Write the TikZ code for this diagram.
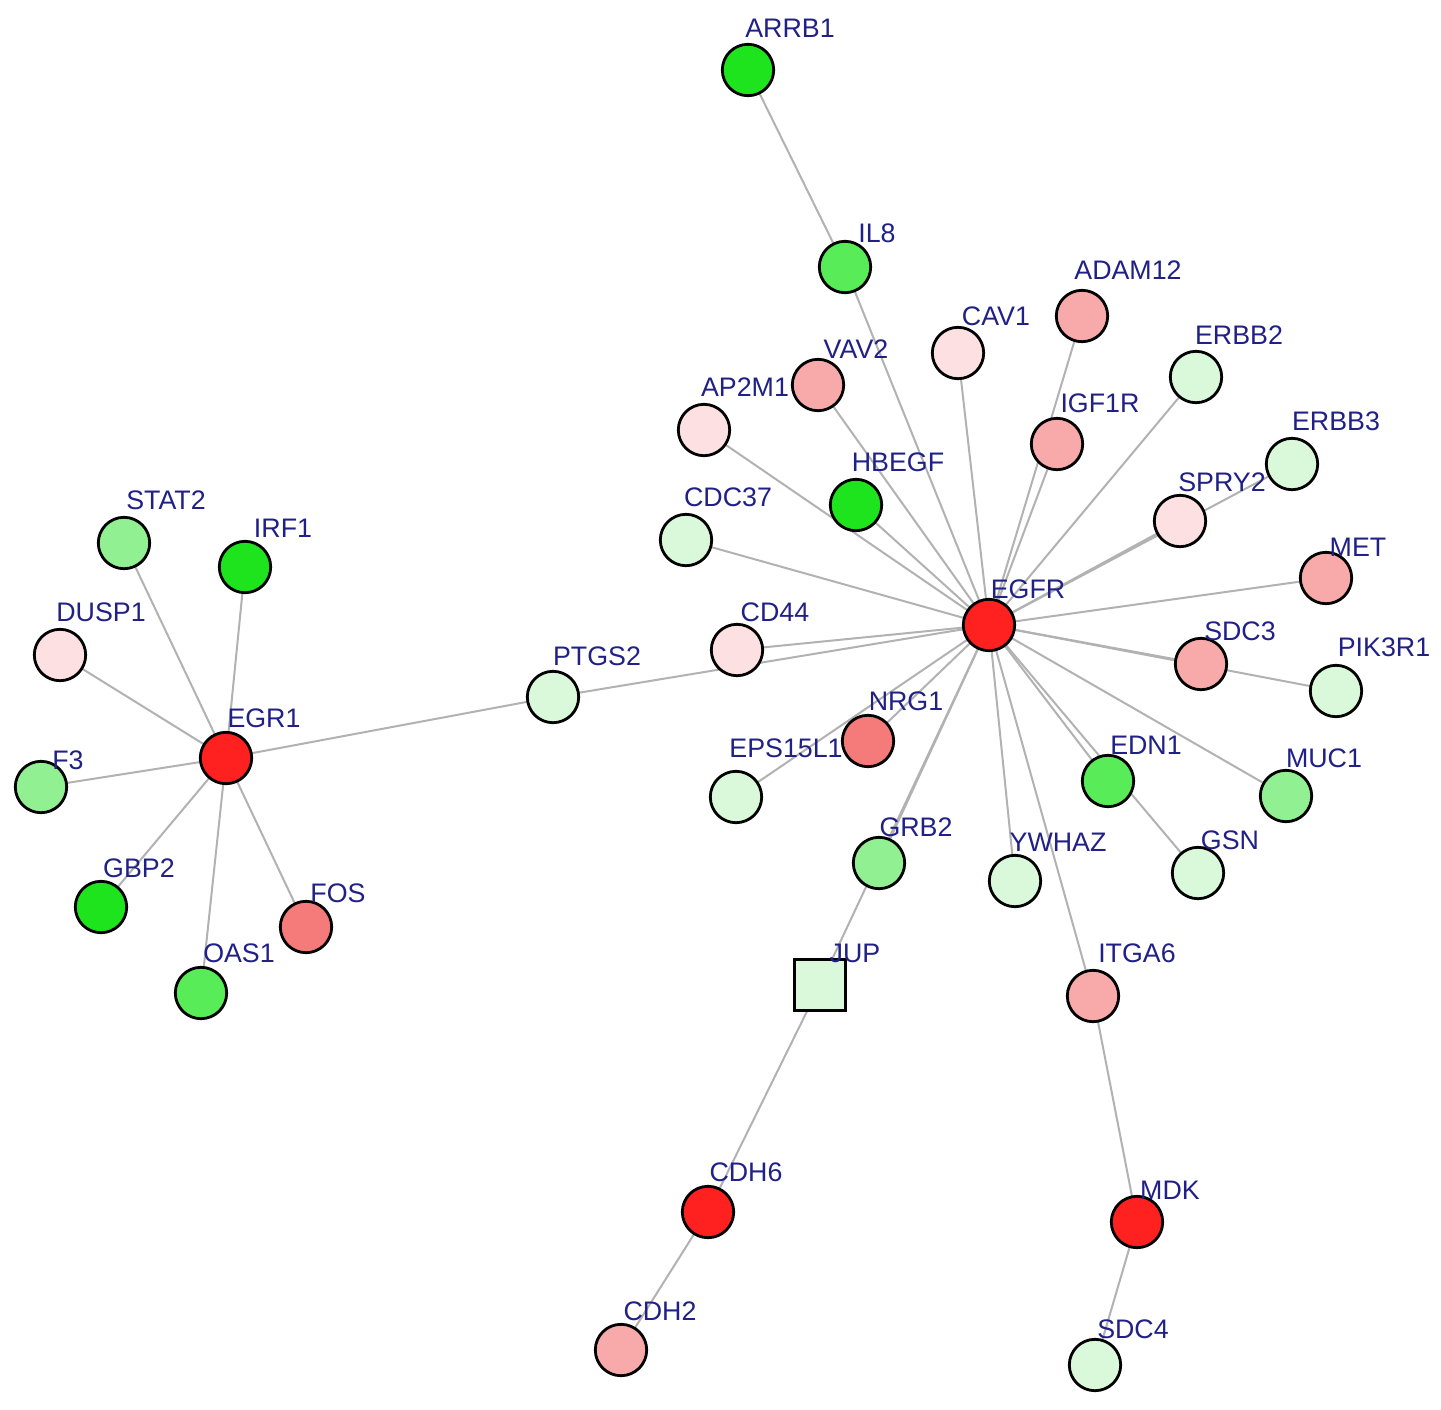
\documentclass[tikz,border=0pt]{standalone}
\usepackage{fontspec}
\setmainfont{Liberation Sans}
\pgfdeclarelayer{bg}
\pgfsetlayers{bg,main}
\definecolor{edgec}{RGB}{178,178,178}
\definecolor{lblc}{RGB}{32,32,135}
\definecolor{cRed}{RGB}{255,32,32}
\definecolor{cSalmon}{RGB}{245,122,122}
\definecolor{cPink}{RGB}{248,170,170}
\definecolor{cBlush}{RGB}{253,224,226}
\definecolor{cGreen}{RGB}{30,228,30}
\definecolor{cMidG}{RGB}{88,236,88}
\definecolor{cLtG}{RGB}{145,240,145}
\definecolor{cPaleG}{RGB}{218,248,218}
\tikzset{
  gene/.style={circle, draw=black, line width=1.4pt, minimum size=25.7pt, inner sep=0pt},
  genesq/.style={rectangle, draw=black, line width=1.4pt, minimum size=25.7pt, inner sep=0pt},
  lbl/.style={text=lblc, font=\fontsize{13.4pt}{13.4pt}\selectfont, inner sep=0pt},
  link/.style={draw=edgec, line width=1pt}
}
\begin{document}
\begin{tikzpicture}[x=0.5pt,y=-0.5pt]
\useasboundingbox (0,0) rectangle (1441,1409);
% nodes
\node[gene, fill=cGreen]  (ARRB1)   at (748,70)   {};
\node[gene, fill=cMidG]   (IL8)     at (845,267)  {};
\node[gene, fill=cPink]   (ADAM12)  at (1082,316) {};
\node[gene, fill=cBlush]  (CAV1)    at (958,353)  {};
\node[gene, fill=cPink]   (VAV2)    at (818,385)  {};
\node[gene, fill=cBlush]  (AP2M1)   at (704,430)  {};
\node[gene, fill=cPaleG]  (ERBB2)   at (1196,377) {};
\node[gene, fill=cPink]   (IGF1R)   at (1057,444) {};
\node[gene, fill=cPaleG]  (ERBB3)   at (1292,464) {};
\node[gene, fill=cGreen]  (HBEGF)   at (856,505)  {};
\node[gene, fill=cBlush]  (SPRY2)   at (1180,521) {};
\node[gene, fill=cPaleG]  (CDC37)   at (686,540)  {};
\node[gene, fill=cLtG]    (STAT2)   at (124,543)  {};
\node[gene, fill=cGreen]  (IRF1)    at (245,567)  {};
\node[gene, fill=cPink]   (MET)     at (1326,578) {};
\node[gene, fill=cRed]    (EGFR)    at (989,625)  {};
\node[gene, fill=cBlush]  (DUSP1)   at (60,655)   {};
\node[gene, fill=cBlush]  (CD44)    at (737,650)  {};
\node[gene, fill=cPaleG]  (PTGS2)   at (553,697)  {};
\node[gene, fill=cPink]   (SDC3)    at (1201,664) {};
\node[gene, fill=cPaleG]  (PIK3R1)  at (1336,691) {};
\node[gene, fill=cSalmon] (NRG1)    at (868,741)  {};
\node[gene, fill=cRed]    (EGR1)    at (226,758)  {};
\node[gene, fill=cLtG]    (F3)      at (41,787)   {};
\node[gene, fill=cPaleG]  (EPS15L1) at (736,797)  {};
\node[gene, fill=cMidG]   (EDN1)    at (1108,781) {};
\node[gene, fill=cLtG]    (MUC1)    at (1286,796) {};
\node[gene, fill=cLtG]    (GRB2)    at (879,863)  {};
\node[gene, fill=cPaleG]  (YWHAZ)   at (1015,881) {};
\node[gene, fill=cPaleG]  (GSN)     at (1198,873) {};
\node[gene, fill=cGreen]  (GBP2)    at (101,907)  {};
\node[gene, fill=cSalmon] (FOS)     at (306,927)  {};
\node[gene, fill=cMidG]   (OAS1)    at (201,993)  {};
\node[genesq, fill=cPaleG] (JUP)    at (820,985)  {};
\node[gene, fill=cPink]   (ITGA6)   at (1093,996) {};
\node[gene, fill=cRed]    (CDH6)    at (708,1212) {};
\node[gene, fill=cRed]    (MDK)     at (1137,1222){};
\node[gene, fill=cPink]   (CDH2)    at (621,1350) {};
\node[gene, fill=cPaleG]  (SDC4)    at (1095,1365){};
% labels
\node[lbl] (ARRB1l)   at (790,28)    {ARRB1};
\node[lbl] (IL8l)     at (877,233)   {IL8};
\node[lbl] (ADAM12l)  at (1128,270)  {ADAM12};
\node[lbl] (CAV1l)    at (996,316)   {CAV1};
\node[lbl] (VAV2l)    at (856,349)   {VAV2};
\node[lbl] (AP2M1l)   at (745,387)   {AP2M1};
\node[lbl] (ERBB2l)   at (1239,335)  {ERBB2};
\node[lbl] (IGF1Rl)   at (1100,403)  {IGF1R};
\node[lbl] (ERBB3l)   at (1336,421)  {ERBB3};
\node[lbl] (HBEGFl)   at (898,462)   {HBEGF};
\node[lbl] (SPRY2l)   at (1222,482)  {SPRY2};
\node[lbl] (CDC37l)   at (728,497)   {CDC37};
\node[lbl] (STAT2l)   at (166,500)   {STAT2};
\node[lbl] (IRF1l)    at (283,528)   {IRF1};
\node[lbl] (METl)     at (1358,547)  {MET};
\node[lbl] (EGFRl)    at (1028,589)  {EGFR};
\node[lbl] (DUSP1l)   at (101,612)   {DUSP1};
\node[lbl] (CD44l)    at (775,612)   {CD44};
\node[lbl] (PTGS2l)   at (597,656)   {PTGS2};
\node[lbl] (SDC3l)    at (1240,631)  {SDC3};
\node[lbl] (PIK3R1l)  at (1384,647)  {PIK3R1};
\node[lbl] (NRG1l)    at (906,701)   {NRG1};
\node[lbl] (EGR1l)    at (264,718)   {EGR1};
\node[lbl] (F3l)      at (68,760)    {F3};
\node[lbl] (EPS15L1l) at (786,748)   {EPS15L1};
\node[lbl] (EDN1l)    at (1146,745)  {EDN1};
\node[lbl] (MUC1l)    at (1324,758)  {MUC1};
\node[lbl] (GRB2l)    at (916,827)   {GRB2};
\node[lbl] (YWHAZl)   at (1058,842)  {YWHAZ};
\node[lbl] (GSNl)     at (1230,840)  {GSN};
\node[lbl] (GBP2l)    at (139,868)   {GBP2};
\node[lbl] (FOSl)     at (338,893)   {FOS};
\node[lbl] (OAS1l)    at (239,953)   {OAS1};
\node[lbl] (JUPl)     at (855,953)   {JUP};
\node[lbl] (ITGA6l)   at (1137,953)  {ITGA6};
\node[lbl] (CDH6l)    at (746,1172)  {CDH6};
\node[lbl] (MDKl)     at (1170,1190) {MDK};
\node[lbl] (CDH2l)    at (660,1311)  {CDH2};
\node[lbl] (SDC4l)    at (1133,1329) {SDC4};
% background and edges
\begin{pgfonlayer}{bg}
\fill[white] (0,0) rectangle (1441,1409);
\foreach \n in {IL8,ADAM12,CAV1,VAV2,AP2M1,ERBB2,IGF1R,ERBB3,SPRY2,HBEGF,CDC37,MET,CD44,PTGS2,SDC3,PIK3R1,NRG1,EPS15L1,EDN1,GSN,MUC1,GRB2,JUP,YWHAZ,ITGA6}
  \draw[link] (EGFR.center) -- (\n.center);
\foreach \n in {STAT2,IRF1,DUSP1,F3,GBP2,OAS1,FOS,PTGS2}
  \draw[link] (EGR1.center) -- (\n.center);
\draw[link] (ARRB1.center) -- (IL8.center);
\draw[link] (ITGA6.center) -- (MDK.center);
\draw[link] (MDK.center) -- (SDC4.center);
\draw[link] (JUP.center) -- (CDH6.center);
\draw[link] (CDH6.center) -- (CDH2.center);
\end{pgfonlayer}
\end{tikzpicture}
\end{document}
